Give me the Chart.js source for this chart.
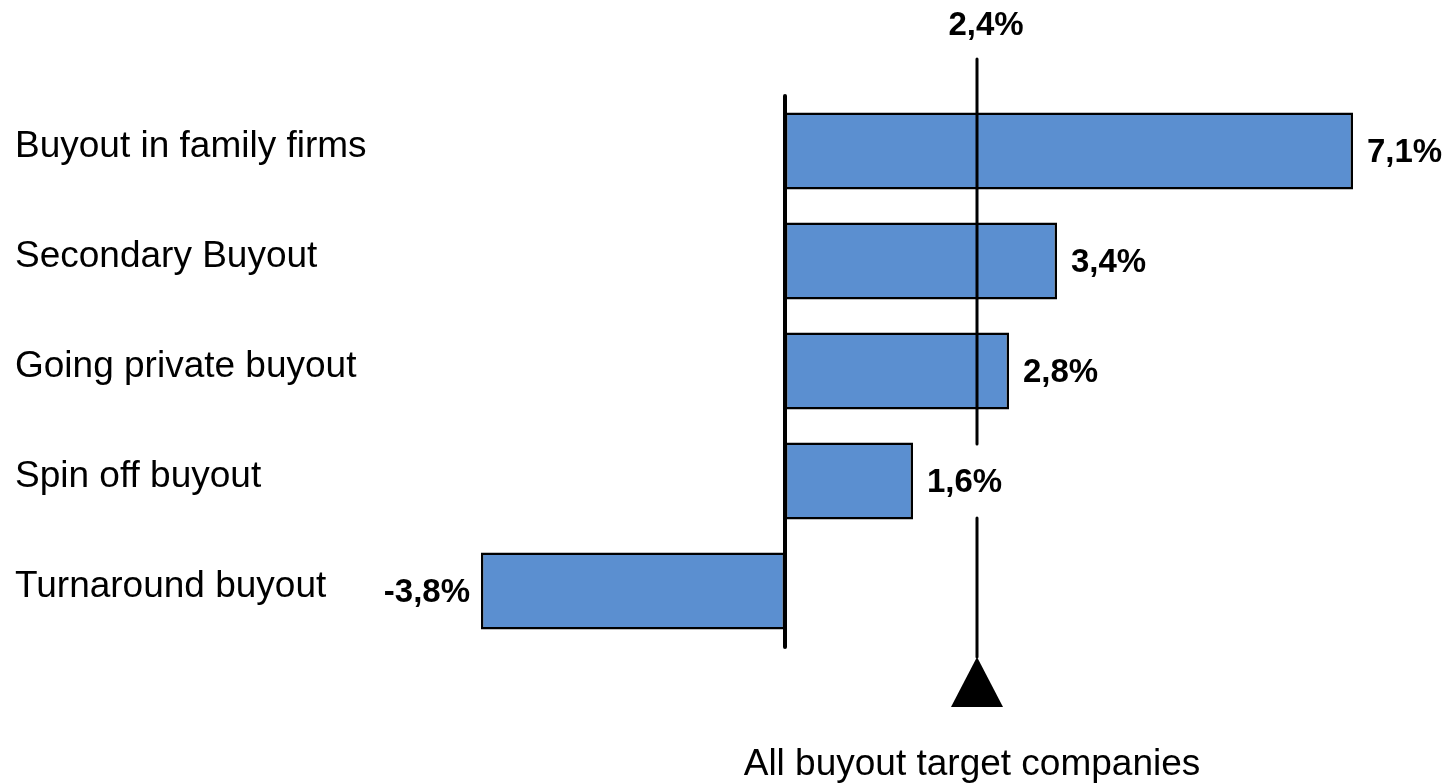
<!DOCTYPE html>
<html>
<head>
<meta charset="utf-8">
<script src="https://cdn.jsdelivr.net/npm/chart.js@4"></script>
<style>
  html, body { margin: 0; padding: 0; background: #fff; }
  #wrap { width: 1450px; height: 784px; position: relative; }
</style>
</head>
<body>
<div id="wrap"><canvas id="chart"></canvas></div>
<script>
/* ── DATA ───────────────────────────────────────────────────────────── */
const categories = [
  'Buyout in family firms',
  'Secondary Buyout',
  'Going private buyout',
  'Spin off buyout',
  'Turnaround buyout',
];
const growth      = [7.1, 3.4, 2.8, 1.6, -3.8];
const allBuyouts  = 2.4;
const allLabel    = 'All buyout target companies';

/* ── HELPERS ────────────────────────────────────────────────────────── */
const FONT = '"Liberation Sans", Arial, sans-serif';
const pct  = v => v.toFixed(1).replace('.', ',') + '%';

// value labels next to each bar + zero axis + the all-buyouts marker
const overlay = {
  id: 'overlay',
  afterDatasetsDraw(chart) {
    const { ctx, chartArea: ca, scales: { x } } = chart;
    const bars = chart.getDatasetMeta(0).data;

    ctx.save();
    ctx.fillStyle = '#000';
    ctx.font = `bold 33px ${FONT}`;
    ctx.textBaseline = 'middle';
    bars.forEach((b, i) => {
      const v = growth[i];
      ctx.textAlign = v < 0 ? 'right' : 'left';
      ctx.fillText(pct(v), b.x + (v < 0 ? -11 : 14), b.y + 2);
    });

    // zero line
    const x0 = x.getPixelForValue(0);
    ctx.strokeStyle = '#000';
    ctx.lineCap = 'round';
    ctx.lineWidth = 4;
    ctx.beginPath();
    ctx.moveTo(x0, ca.top);
    ctx.lineTo(x0, ca.bottom + 1);
    ctx.stroke();

    // all-buyouts reference line, broken around the 1,6% label
    const xr  = x.getPixelForValue(allBuyouts);
    const gap = bars[3].y;
    const tipY = ca.bottom + 11;
    ctx.lineWidth = 3;
    ctx.beginPath();
    ctx.moveTo(xr, ca.top - 37);
    ctx.lineTo(xr, gap - 37);
    ctx.moveTo(xr, gap + 37);
    ctx.lineTo(xr, tipY);
    ctx.stroke();

    ctx.beginPath();
    ctx.moveTo(xr, tipY);
    ctx.lineTo(xr + 26, tipY + 50);
    ctx.lineTo(xr - 26, tipY + 50);
    ctx.closePath();
    ctx.fill();

    ctx.textAlign = 'center';
    ctx.fillText(pct(allBuyouts), xr + 9, 26);
    ctx.font = `37px ${FONT}`;
    ctx.fillText(allLabel, xr - 5, 765);
    ctx.restore();
  },
};

/* ── CHART ──────────────────────────────────────────────────────────── */
new Chart(document.getElementById('chart'), {
  type: 'bar',
  data: {
    labels: categories,
    datasets: [{
      data: growth,
      backgroundColor: '#5B8FD0',
      borderColor: '#000',
      borderWidth: 2.5,
      borderSkipped: false,
      barPercentage: 0.7,
      categoryPercentage: 1,
    }],
  },
  options: {
    indexAxis: 'y',
    responsive: true, maintainAspectRatio: false,
    animation: false,
    layout: { padding: { top: 96, bottom: 138, left: 15, right: 0 } },
    plugins: { legend: { display: false }, tooltip: { enabled: false } },
    scales: {
      x: { display: false, min: -4.125, max: 8.3125 },
      y: {
        grid: { display: false }, border: { display: false },
        afterFit: s => { s.width = 440; },
        ticks: {
          crossAlign: 'far', color: '#000', padding: 0, labelOffset: -4,
          font: { family: FONT, size: 37 },
        },
      },
    },
  },
  plugins: [overlay],
});
</script>
</body>
</html>
